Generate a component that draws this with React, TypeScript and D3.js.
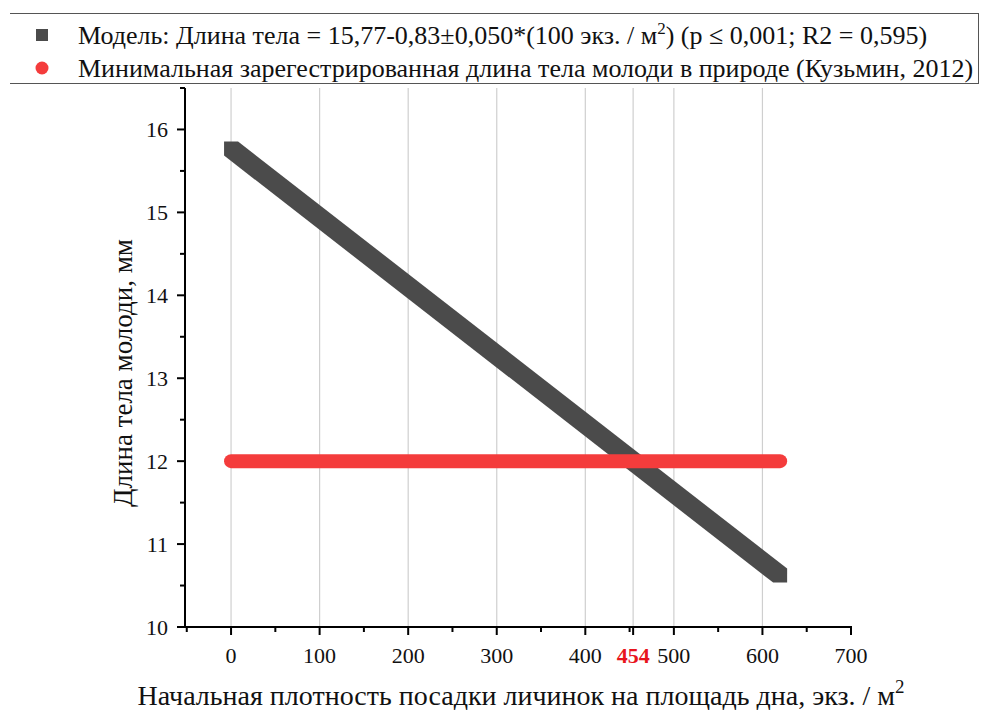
import React from "react";
import * as d3 from "d3";

const xTicks = [0, 100, 200, 300, 400, 500, 600, 700];
const xMinorTicks = [-50, 50, 150, 250, 350, 450, 550, 650];
const yTicks = [10, 11, 12, 13, 14, 15, 16];
const yMinorTicks = [10.5, 11.5, 12.5, 13.5, 14.5, 15.5, 16.5];
const gridX = [0, 100, 200, 300, 400, 454, 500, 600];
const modelX = [0, 620];
const modelY = [15.77, 10.62];
const minX = [0, 620];
const minY = [12, 12];
const crossX = 454;

const W = 983;
const H = 710;
const FONT = "Liberation Serif, Times New Roman, DejaVu Serif, serif";
const GRAY = "#4b4b4b";
const RED = "#f43c3c";

export default function App() {
  const x = d3.scaleLinear().domain([-52, 700]).range([185, 851]);
  const y = d3.scaleLinear().domain([10, 16.5]).range([627, 88]);
  const h = 7;
  const x0 = x(modelX[0]), y0 = y(modelY[0]);
  const x1 = x(modelX[1]), y1 = y(modelY[1]);
  const hex = `M${x0 - h},${y0 - h}L${x0 + h},${y0 - h}L${x1 + h},${y1 - h}L${x1 + h},${y1 + h}L${x1 - h},${y1 + h}L${x0 - h},${y0 + h}Z`;
  const redLine = d3.line<number>().x((d, i) => x(minX[i])).y((d) => y(d))(minY) || "";
  const ts = { fontFamily: FONT };

  return (
    <div style={{ position: "absolute", left: 0, top: 0 }}>
      <svg width={W} height={H} style={{ display: "block", background: "#fff", fontFamily: FONT }}>
        {/* legend box */}
        <line x1={10} x2={978} y1={13.5} y2={13.5} stroke="#555" strokeWidth={1} />
        <line x1={10} x2={978} y1={83.5} y2={83.5} stroke="#555" strokeWidth={1} />
        <line x1={978.5} x2={978.5} y1={13} y2={84} stroke="#555" strokeWidth={1} />
        <rect x={36} y={29} width={12} height={12} fill={GRAY} />
        <circle cx={42} cy={68} r={6.5} fill={RED} />
        <text x={78} y={44} fontSize={26} fill="#111" style={ts}>
          Модель: Длина тела = 15,77-0,83±0,050*(100 экз. / м
          <tspan dy={-10} fontSize={17}>2</tspan>
          <tspan dy={10}>) (p ≤ 0,001; R2 = 0,595)</tspan>
        </text>
        <text x={78} y={77} fontSize={26} fill="#111" style={ts}>
          Минимальная зарегестрированная длина тела молоди в природе (Кузьмин, 2012)
        </text>

        {/* grid */}
        {gridX.map((g) => (
          <line key={"g" + g} x1={x(g)} x2={x(g)} y1={y(16.5)} y2={y(10)} stroke="#cfcfcf" strokeWidth={1.2} />
        ))}

        {/* series */}
        <path d={hex} fill={GRAY} />
        <path d={redLine} stroke={RED} strokeWidth={14} strokeLinecap="round" fill="none" />

        {/* y axis */}
        <line x1={185} x2={185} y1={y(16.5)} y2={y(10)} stroke="#000" strokeWidth={2} />
        {yTicks.map((t) => (
          <g key={"yt" + t}>
            <line x1={177} x2={185} y1={y(t)} y2={y(t)} stroke="#000" strokeWidth={2} />
            <text x={168} y={y(t)} dy="0.35em" textAnchor="end" fontSize={22} fill="#111" style={ts}>{t}</text>
          </g>
        ))}
        {yMinorTicks.map((t) => (
          <line key={"ym" + t} x1={180} x2={185} y1={y(t)} y2={y(t)} stroke="#000" strokeWidth={2} />
        ))}

        {/* x axis */}
        <line x1={185} x2={x(700) + 1} y1={627} y2={627} stroke="#000" strokeWidth={2} />
        {xTicks.map((t) => (
          <g key={"xt" + t}>
            <line x1={x(t)} x2={x(t)} y1={627} y2={635} stroke="#000" strokeWidth={2} />
            <text x={x(t)} y={663} textAnchor="middle" fontSize={22} fill="#111" style={ts}>{t}</text>
          </g>
        ))}
        {xMinorTicks.map((t) => (
          <line key={"xm" + t} x1={x(t)} x2={x(t)} y1={627} y2={632} stroke="#000" strokeWidth={2} />
        ))}
        <line x1={x(crossX)} x2={x(crossX)} y1={627} y2={635} stroke="#000" strokeWidth={2} />
        <text x={x(crossX)} y={663} textAnchor="middle" fontSize={22} fontWeight="bold" fill="#e8141c" style={ts}>{crossX}</text>

        {/* axis titles */}
        <text transform={`translate(132,373) rotate(-90)`} textAnchor="middle" fontSize={27} fill="#111" style={ts}>
          Длина тела молоди, мм
        </text>
        <text x={521} y={705} textAnchor="middle" fontSize={28} fill="#111" style={ts}>
          Начальная плотность посадки личинок на площадь дна, экз. / м
          <tspan dy={-12} fontSize={19}>2</tspan>
        </text>
      </svg>
    </div>
  );
}
